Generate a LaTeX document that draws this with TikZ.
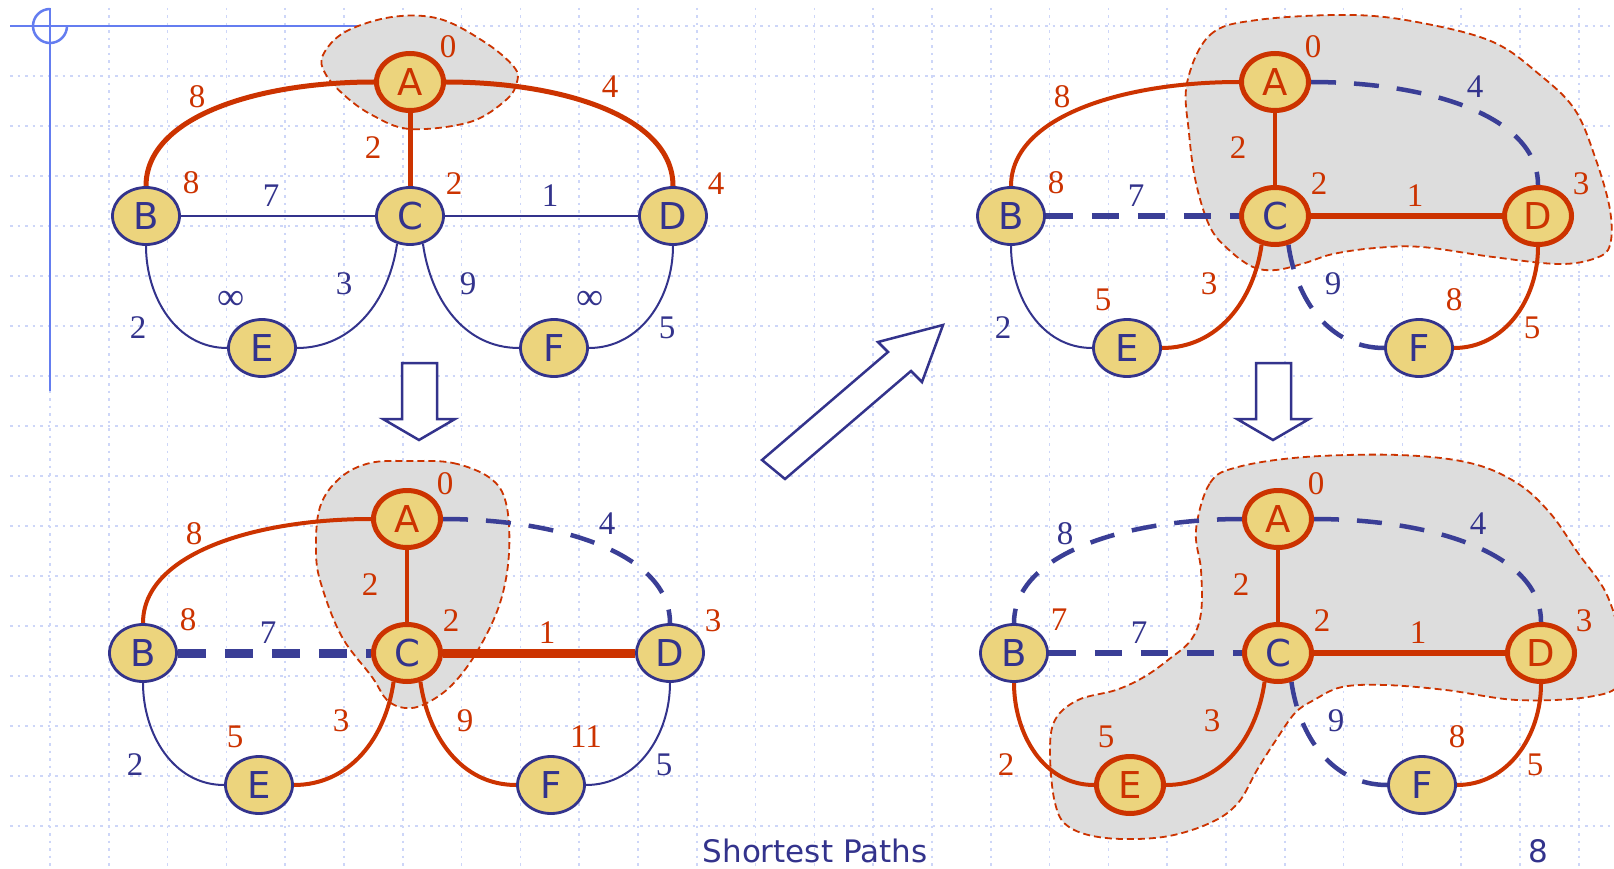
\documentclass[tikz,border=0pt]{standalone}
\usepackage{fontspec}
\setmainfont{Liberation Serif}
\newfontfamily\sansf{DejaVu Sans}
\usetikzlibrary{shapes.geometric}
\definecolor{navy}{RGB}{51,51,140}
\definecolor{dashblue}{RGB}{58,62,150}
\definecolor{rust}{RGB}{204,51,0}
\definecolor{nodefill}{RGB}{236,212,125}
\definecolor{cloudgray}{RGB}{221,221,221}
\definecolor{gridblue}{RGB}{205,214,248}
\definecolor{frameblue}{RGB}{100,125,240}
\pgfdeclarelayer{back}
\pgfdeclarelayer{edges}
\pgfsetlayers{back,edges,main}

\begin{document}
\begin{tikzpicture}[x=1pt,y=-1pt,
  vtx/.style={ellipse, draw=navy, line width=2.8pt, fill=nodefill,
    minimum width=67pt, minimum height=57pt, inner sep=0pt, text=navy,
    font=\sansf\fontsize{37}{37}\selectfont},
  vdone/.style={vtx, draw=rust, line width=5pt},
  wt/.style={inner sep=0pt, font=\fontsize{33}{33}\selectfont},
  wtb/.style={wt, text=navy},
  wtr/.style={wt, text=rust},
  eplain/.style={draw=navy, line width=2pt},
  ered/.style={draw=rust, line width=4pt},
  eredm/.style={draw=rust, line width=6pt},
  eredw/.style={draw=rust, line width=5pt},
  eredx/.style={draw=rust, line width=9pt},
  edash/.style={draw=dashblue, line width=4.5pt, dash pattern=on 25pt off 18pt},
  edashm/.style={draw=dashblue, line width=6pt, dash pattern=on 27pt off 19pt},
  edashx/.style={draw=dashblue, line width=9pt, dash pattern=on 28pt off 19pt},
  gridline/.style={draw=gridblue, line width=1.5pt, dash pattern=on 2.5pt off 5pt},
  frame/.style={draw=frameblue, line width=2.5pt},
  blob/.style={fill=cloudgray, draw=rust, line width=1.8pt, dash pattern=on 7pt off 4pt},
  hollow/.style={draw=navy, fill=white, line width=2.5pt, line join=miter},
]
\useasboundingbox (0,0) rectangle (1614,869);

\begin{pgfonlayer}{back}
  \fill[white] (0,0) rectangle (1614,869);
  % dotted grid
  \foreach \i in {0,...,26}
    \draw[gridline] ({50+58.8*\i},8) -- ({50+58.8*\i},869);
  \foreach \j in {0,...,16}
    \draw[gridline] (10,{26+50*\j}) -- (1614,{26+50*\j});
  % corner mark
  \draw[frame] (10,26) -- (358,26);
  \draw[frame] (50,8) -- (50,391);
  \draw[frame] (50,9) arc[start angle=-90, end angle=-360, radius=17];
  % settled regions
  \draw[blob] plot[smooth cycle, tension=0.6] coordinates {
    (392,17) (440,19) (486,43) (514,67) (517,82) (506,100) (470,122)
    (410,129) (372,115) (344,95) (325,73) (323,55) (345,32)};
  \draw[blob] plot[smooth cycle, tension=0.6] coordinates {
    (410,461) (453,463) (490,478) (506,503) (509,553) (500,603) (478,650)
    (452,685) (425,704) (405,708) (387,700) (372,677) (342,637) (322,587)
    (316,553) (320,507) (340,478) (370,463)};
  \draw[blob] plot[smooth cycle, tension=0.6] coordinates {
    (1187,83) (1210,35) (1257,20) (1352,15) (1422,23) (1493,42) (1540,75)
    (1575,110) (1596,160) (1610,210) (1610,245) (1596,258) (1559,264)
    (1493,257) (1422,247) (1375,248) (1333,254) (1305,263) (1276,270)
    (1253,267) (1229,250) (1210,227) (1196,183) (1189,133)};
  \draw[blob] plot[smooth cycle, tension=0.6] coordinates {
    (1196,530) (1210,483) (1238,467) (1305,457) (1399,455) (1470,463)
    (1517,483) (1550,513) (1578,553) (1606,593) (1620,640) (1620,683)
    (1588,697) (1517,700) (1446,690) (1385,685) (1342,687) (1314,700)
    (1295,713) (1276,740) (1257,770) (1238,803) (1210,823) (1163,837)
    (1106,838) (1069,827) (1055,803) (1050,753) (1055,720) (1078,700)
    (1116,690) (1144,677) (1168,660) (1191,640) (1201,613) (1201,570)};
\end{pgfonlayer}

% step arrows
\draw[hollow] (402,363) -- (437,363) -- (437,419) -- (455,419) -- (419,440)
  -- (383,419) -- (402,419) -- cycle;
\draw[hollow] (1256,363) -- (1291,363) -- (1291,419) -- (1309,419) -- (1273,440)
  -- (1237,419) -- (1256,419) -- cycle;
\draw[hollow] (762,460) -- (888,352) -- (878,342) -- (943,325) -- (922,382)
  -- (911,371) -- (785,479) -- cycle;

% ---------- step 1 ----------
\begin{scope}[name prefix=p1-]
  \node[vdone, text=rust] (A) at (410,82) {A};
  \node[vtx] (B) at (146,216) {B};
  \node[vtx] (C) at (410,216) {C};
  \node[vtx] (D) at (673,216) {D};
  \node[vtx] (E) at (262,348) {E};
  \node[vtx] (F) at (554,348) {F};
  \begin{pgfonlayer}{edges}
    \draw[eredw] (A.west) to[out=180, in=90, out distance=115pt, in distance=70pt] (B.north);
    \draw[eredw] (A.east) to[out=0, in=90, out distance=115pt, in distance=70pt] (D.north);
    \draw[eredw] (A) -- (C);
    \draw[eplain] (B) -- (C);
    \draw[eplain] (C) -- (D);
    \draw[eplain] (B.south) to[out=-90, in=180] (E.west);
    \draw[eplain] (C.-115) to[out=-98, in=0] (E.east);
    \draw[eplain] (C.-65) to[out=-82, in=180] (F.west);
    \draw[eplain] (D.south) to[out=-90, in=0] (F.east);
  \end{pgfonlayer}
  \node[wtr] (wab) at (197,97) {8};
  \node[wtr] (wad) at (610,87) {4};
  \node[wtr] (wac) at (373,148) {2};
  \node[wtb] (wbc) at (271,196) {7};
  \node[wtb] (wcd) at (550,196) {1};
  \node[wtb] (wce) at (344,284) {3};
  \node[wtb] (wcf) at (468,284) {9};
  \node[wtb] (wbe) at (138,328) {2};
  \node[wtb] (wdf) at (667,328) {5};
  \node[wtr] (dA) at (448,47) {0};
  \node[wtr] (dB) at (191,183) {8};
  \node[wtr] (dC) at (454,184) {2};
  \node[wtr] (dD) at (716,184) {4};
  \node[wtb, font=\fontsize{38}{38}\selectfont] (dE) at (231,300) {∞};
  \node[wtb, font=\fontsize{38}{38}\selectfont] (dF) at (590,300) {∞};
\end{scope}

% ---------- step 2 ----------
\begin{scope}[shift={(-3,437)}, name prefix=p2-]
  \node[vdone, text=rust] (A) at (410,82) {A};
  \node[vtx] (B) at (146,216) {B};
  \node[vdone] (C) at (410,216) {C};
  \node[vtx] (D) at (673,216) {D};
  \node[vtx] (E) at (262,348) {E};
  \node[vtx] (F) at (554,348) {F};
  \begin{pgfonlayer}{edges}
    \draw[ered] (A.west) to[out=180, in=90, out distance=115pt, in distance=70pt] (B.north);
    \draw[edash] (A.east) to[out=0, in=90, out distance=115pt, in distance=70pt] (D.north);
    \draw[ered] (A) -- (C);
    \draw[edashx] (B) -- (C);
    \draw[eredx] (C) -- (D);
    \draw[eplain] (B.south) to[out=-90, in=180] (E.west);
    \draw[ered] (C.-115) to[out=-98, in=0] (E.east);
    \draw[ered] (C.-65) to[out=-82, in=180] (F.west);
    \draw[eplain] (D.south) to[out=-90, in=0] (F.east);
  \end{pgfonlayer}
  \node[wtr] (wab) at (197,97) {8};
  \node[wtb] (wad) at (610,87) {4};
  \node[wtr] (wac) at (373,148) {2};
  \node[wtb] (wbc) at (271,196) {7};
  \node[wtr] (wcd) at (550,196) {1};
  \node[wtr] (wce) at (344,284) {3};
  \node[wtr] (wcf) at (468,284) {9};
  \node[wtb] (wbe) at (138,328) {2};
  \node[wtb] (wdf) at (667,328) {5};
  \node[wtr] (dA) at (448,47) {0};
  \node[wtr] (dB) at (191,183) {8};
  \node[wtr] (dC) at (454,184) {2};
  \node[wtr] (dD) at (716,184) {3};
  \node[wtr] (dE) at (238,300) {5};
  \node[wtr] (dF) at (589,300) {11};
\end{scope}

% ---------- step 3 ----------
\begin{scope}[shift={(865,0)}, name prefix=p3-]
  \node[vdone, text=rust] (A) at (410,82) {A};
  \node[vtx] (B) at (146,216) {B};
  \node[vdone] (C) at (410,216) {C};
  \node[vdone, text=rust] (D) at (673,216) {D};
  \node[vtx] (E) at (262,348) {E};
  \node[vtx] (F) at (554,348) {F};
  \begin{pgfonlayer}{edges}
    \draw[ered] (A.west) to[out=180, in=90, out distance=115pt, in distance=70pt] (B.north);
    \draw[edash] (A.east) to[out=0, in=90, out distance=115pt, in distance=70pt] (D.north);
    \draw[ered] (A) -- (C);
    \draw[edashm] (B) -- (C);
    \draw[eredm] (C) -- (D);
    \draw[eplain] (B.south) to[out=-90, in=180] (E.west);
    \draw[ered] (C.-115) to[out=-98, in=0] (E.east);
    \draw[edash] (C.-65) to[out=-82, in=180] (F.west);
    \draw[ered] (D.south) to[out=-90, in=0] (F.east);
  \end{pgfonlayer}
  \node[wtr] (wab) at (197,97) {8};
  \node[wtb] (wad) at (610,87) {4};
  \node[wtr] (wac) at (373,148) {2};
  \node[wtb] (wbc) at (271,196) {7};
  \node[wtr] (wcd) at (550,196) {1};
  \node[wtr] (wce) at (344,284) {3};
  \node[wtb] (wcf) at (468,284) {9};
  \node[wtb] (wbe) at (138,328) {2};
  \node[wtr] (wdf) at (667,328) {5};
  \node[wtr] (dA) at (448,47) {0};
  \node[wtr] (dB) at (191,183) {8};
  \node[wtr] (dC) at (454,184) {2};
  \node[wtr] (dD) at (716,184) {3};
  \node[wtr] (dE) at (238,300) {5};
  \node[wtr] (dF) at (589,300) {8};
\end{scope}

% ---------- step 4 ----------
\begin{scope}[shift={(868,437)}, name prefix=p4-]
  \node[vdone, text=rust] (A) at (410,82) {A};
  \node[vtx] (B) at (146,216) {B};
  \node[vdone] (C) at (410,216) {C};
  \node[vdone, text=rust] (D) at (673,216) {D};
  \node[vdone, text=rust] (E) at (262,348) {E};
  \node[vtx] (F) at (554,348) {F};
  \begin{pgfonlayer}{edges}
    \draw[edash] (A.west) to[out=180, in=90, out distance=115pt, in distance=70pt] (B.north);
    \draw[edash] (A.east) to[out=0, in=90, out distance=115pt, in distance=70pt] (D.north);
    \draw[ered] (A) -- (C);
    \draw[edashm] (B) -- (C);
    \draw[eredm] (C) -- (D);
    \draw[ered] (B.south) to[out=-90, in=180] (E.west);
    \draw[ered] (C.-115) to[out=-98, in=0] (E.east);
    \draw[edash] (C.-65) to[out=-82, in=180] (F.west);
    \draw[ered] (D.south) to[out=-90, in=0] (F.east);
  \end{pgfonlayer}
  \node[wtb] (wab) at (197,97) {8};
  \node[wtb] (wad) at (610,87) {4};
  \node[wtr] (wac) at (373,148) {2};
  \node[wtb] (wbc) at (271,196) {7};
  \node[wtr] (wcd) at (550,196) {1};
  \node[wtr] (wce) at (344,284) {3};
  \node[wtb] (wcf) at (468,284) {9};
  \node[wtr] (wbe) at (138,328) {2};
  \node[wtr] (wdf) at (667,328) {5};
  \node[wtr] (dA) at (448,47) {0};
  \node[wtr] (dB) at (191,183) {7};
  \node[wtr] (dC) at (454,184) {2};
  \node[wtr] (dD) at (716,184) {3};
  \node[wtr] (dE) at (238,300) {5};
  \node[wtr] (dF) at (589,300) {8};
\end{scope}

% footer
\node[text=navy, inner sep=0pt, font=\sansf\fontsize{31}{31}\selectfont] (title) at (815,851) {Shortest Paths};
\node[text=navy, inner sep=0pt, font=\sansf\fontsize{31}{31}\selectfont] (page) at (1538,851) {8};
\end{tikzpicture}
\end{document}
